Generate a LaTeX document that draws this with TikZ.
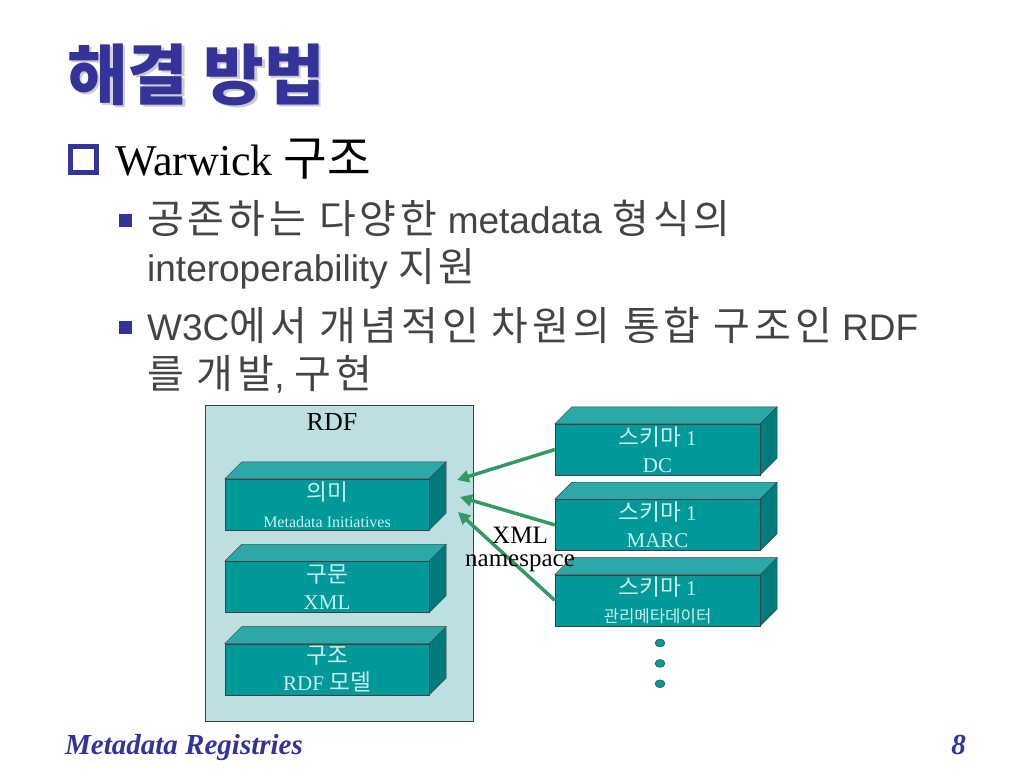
\documentclass[tikz,border=0pt]{standalone}
\usepackage{fontspec}
\setmainfont{Liberation Sans}
\newfontfamily\serif{Liberation Serif}
\newfontfamily\kr{Noto Sans CJK KR}[Scale=1.08, LetterSpace=10]
\newfontfamily\krd{Noto Sans CJK KR}[Scale=1.08]
\usetikzlibrary{positioning,arrows.meta,shapes.geometric,backgrounds}

\definecolor{titleblue}{HTML}{333399}
\definecolor{bodygray}{HTML}{444444}
\definecolor{rdfbg}{HTML}{BCE0E2}
\definecolor{slabfront}{HTML}{009999}
\definecolor{slabtop}{HTML}{2CA8A8}
\definecolor{slabside}{HTML}{007B7B}
\definecolor{slabtext}{HTML}{CCEEEE}
\definecolor{arrowgreen}{HTML}{339966}

\tikzset{
  slab/.style={draw=black!75, fill=slabfront, minimum width=204pt, minimum height=51pt,
    inner sep=0pt, text=slabtext, align=center, font=\serif\fontsize{21}{27}\selectfont},
  slabtopface/.style={fill=slabtop, draw=black!75},
  slabsideface/.style={fill=slabside, draw=black!75},
  link/.style={draw=arrowgreen, line width=3.5pt, -{Triangle[length=12pt,width=12pt]}},
  dot/.style={ellipse, draw=black!75, fill=slabfront, minimum width=10pt, minimum height=8pt, inner sep=0pt},
  bodyline/.style={anchor=base west, inner sep=0pt, text=bodygray, font=\fontsize{37}{44}\selectfont},
}

\begin{document}
\begin{tikzpicture}[x=1pt, y=-1pt]
  \useasboundingbox (0,0) rectangle (1024,768);

  % Title and bullets
  \node[anchor=base west, inner sep=0pt, text=black!20, font=\krd\bfseries\fontsize{61}{66}\selectfont]
    (titleshadow) at (69.5,101.5) {해결 방법};
  \node[anchor=base west, inner sep=0pt, text=titleblue, font=\krd\bfseries\fontsize{61}{66}\selectfont]
    (title) at (67,99) {해결 방법};

  \node[draw=titleblue, line width=5pt, minimum size=26pt, inner sep=0pt] (box1) at (83.5,159) {};
  \node[anchor=base west, inner sep=0pt, font=\serif\fontsize{44}{50}\selectfont]
    (warwick) at (115,175) {Warwick {\krd 구조}};

  \node[fill=titleblue, minimum size=13pt, inner sep=0pt] (sq1) at (125,220) {};
  \node[bodyline] (line1) at (147,233) {{\kr 공존하는 다양한} metadata {\kr 형식의}};
  \node[bodyline] (line2) at (147,281) {interoperability {\kr 지원}};
  \node[fill=titleblue, minimum size=13pt, inner sep=0pt] (sq2) at (125,327) {};
  \node[bodyline] (line3) at (147,340) {W3C{\kr 에서 개념적인 차원의 통합 구조인} RDF};
  \node[bodyline] (line4) at (147,388) {{\kr 를 개발}, {\kr 구현}};

  % RDF frame
  \begin{scope}[on background layer]
    \fill[white] (0,0) rectangle (1024,768);
    \node[draw=black!75, fill=rdfbg, minimum width=268pt, minimum height=316pt] (rdf) at (339,563) {};
  \end{scope}
  \node[font=\serif\fontsize{26}{30}\selectfont] (rdflbl) at (332,422) {RDF};

  % Layer slabs
  \node[slab] (sem) at (327,504.5) {{\krd 의미}\\{\fontsize{16}{18}\selectfont Metadata Initiatives}};
  \node[slab, below=31pt of sem] (syn) {{\krd 구문}\\XML};
  \node[slab, below=31pt of syn] (str) {{\krd 구조}\\RDF {\krd 모델}};

  % Schema slabs
  \node[slab, minimum width=205pt] (dc) at (657.5,449.5) {{\krd 스키마} 1\\DC};
  \node[slab, minimum width=205pt, below=24pt of dc] (marc) {{\krd 스키마} 1\\MARC};
  \node[slab, minimum width=205pt, below=24pt of marc] (adm) {{\krd 스키마} 1\\{\krd\fontsize{15.5}{18}\selectfont 관리메타데이터}};

  % top and side faces
  \begin{scope}[on background layer]
    \foreach \n in {sem,syn,str,dc,marc,adm}{
      \filldraw[slabtopface] (\n.north west) -- ++(17,-17) -- ([shift={(17,-17)}]\n.north east) -- (\n.north east) -- cycle;
      \filldraw[slabsideface] (\n.north east) -- ++(17,-17) -- ([shift={(17,-17)}]\n.south east) -- (\n.south east) -- cycle;
    }
  \end{scope}

  % dots
  \node[dot] (d1) at (660,643) {};
  \node[dot, below=12pt of d1] (d2) {};
  \node[dot, below=12pt of d2] (d3) {};

  % links
  \coordinate (t1) at (457,480);
  \coordinate (t2) at (460,497);
  \coordinate (t3) at (458,512);
  \draw[link] (dc.west) -- (t1);
  \draw[link] (marc.west) -- (t2);
  \draw[link] (adm.west) -- (t3);

  \node[font=\serif\fontsize{25}{28}\selectfont] (xmllbl) at (520,535) {XML};
  \node[font=\serif\fontsize{25}{28}\selectfont] (nslbl) at (520,563) {namespace};

  % footer
  \node[anchor=base west, inner sep=0pt, text=titleblue, font=\serif\bfseries\itshape\fontsize{29}{32}\selectfont]
    (footer) at (65,754) {Metadata Registries};
  \node[anchor=base east, inner sep=0pt, text=titleblue, font=\serif\bfseries\itshape\fontsize{29}{32}\selectfont]
    (pagenum) at (966,754) {8};
\end{tikzpicture}
\end{document}
